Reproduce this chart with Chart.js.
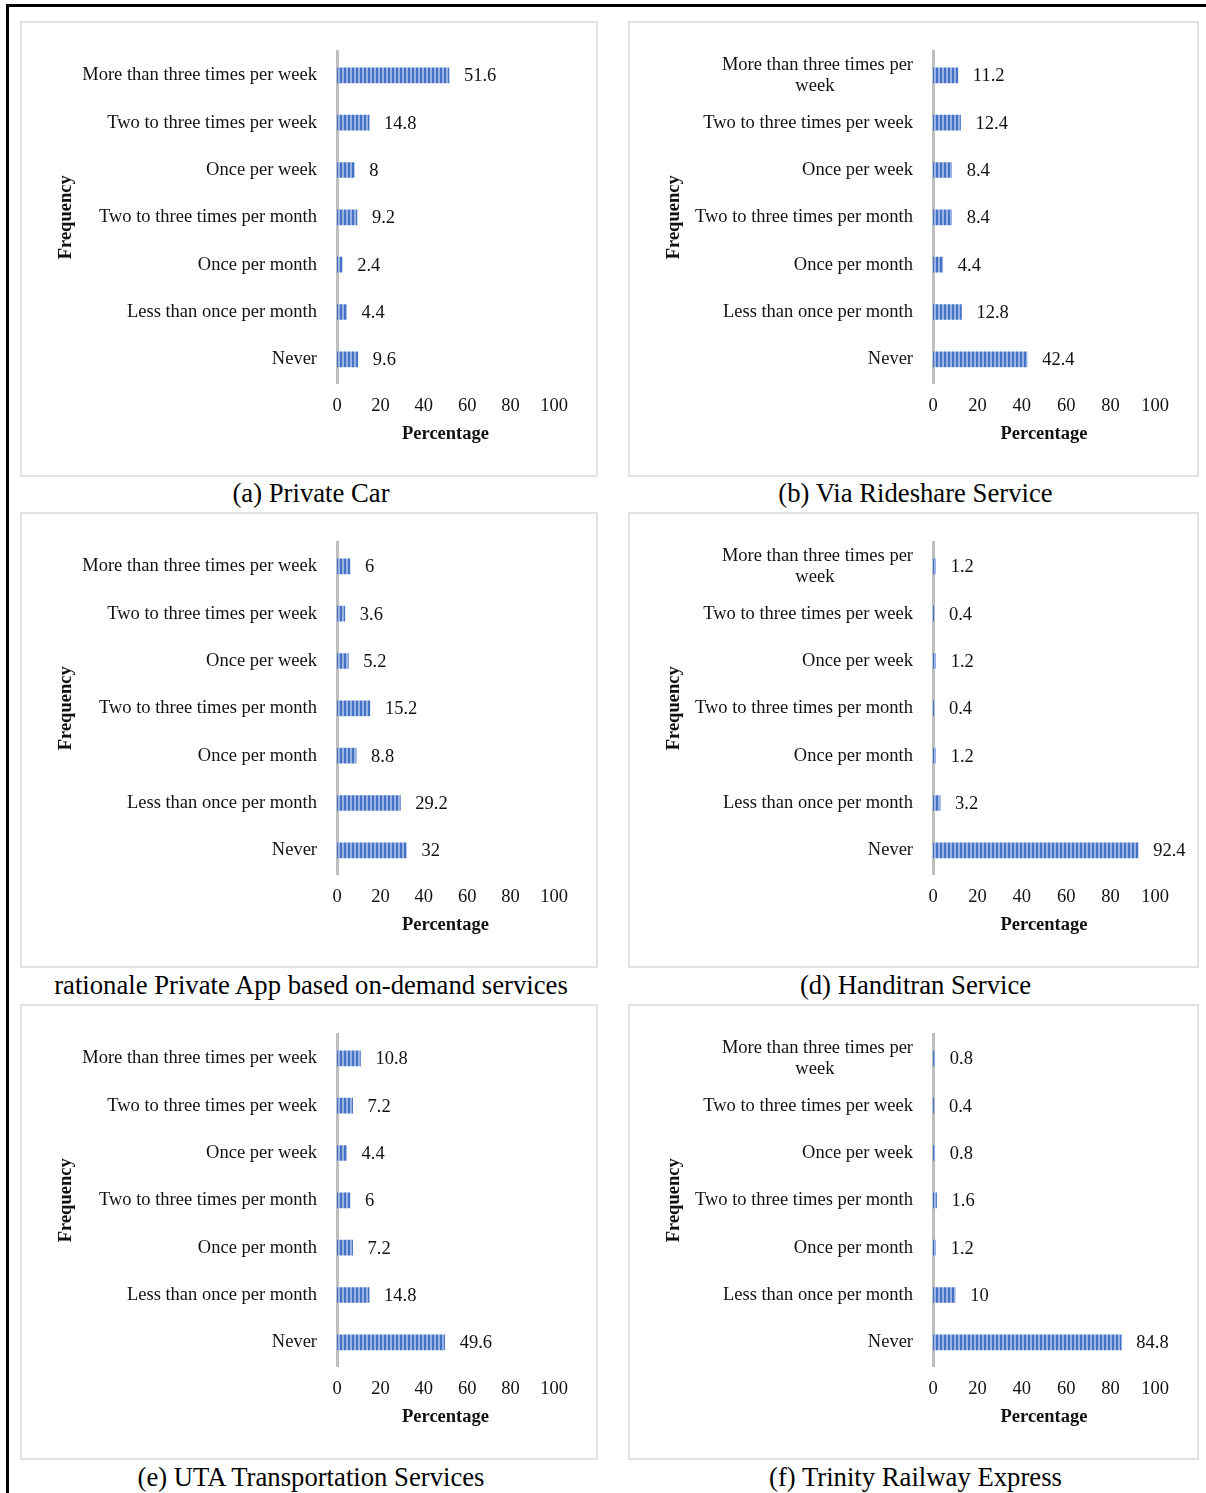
<!DOCTYPE html>
<html>
<head>
<meta charset="utf-8">
<script src="https://cdn.jsdelivr.net/npm/chart.js@4.4.1/dist/chart.umd.min.js"></script>
<style>
  html, body { margin: 0; padding: 0; background: #fff; }
  body { width: 1206px; height: 1493px; position: relative; overflow: hidden; }
  .frame-top { position: absolute; left: 6px; top: 4px; width: 1200px; height: 3px; background: #000; }
  .frame-left { position: absolute; left: 6px; top: 4px; width: 3px; height: 1489px; background: #000; }
  .panel { position: absolute; box-sizing: border-box; border: 2px solid #e2e2e2; background: #fff; }
  .panel canvas { position: absolute; left: -2px; top: -2px; }
  .caption { position: absolute; text-align: center; font-family: "Liberation Serif", "Times New Roman", serif;
             font-size: 26.7px; color: #000; white-space: nowrap; line-height: 30px; }
</style>
</head>
<body>
<div class="frame-top"></div>
<div class="frame-left"></div>
<div id="root"></div>
<script>
// Survey categories (top to bottom)
const frequencyLabels = [
  "More than three times per week",
  "Two to three times per week",
  "Once per week",
  "Two to three times per month",
  "Once per month",
  "Less than once per month",
  "Never"
];
// Same categories, with the long first label wrapped for the narrower panels
const frequencyLabelsWrapped = [
  ["More than three times per", "week" + " ".repeat(17)],
  "Two to three times per week",
  "Once per week",
  "Two to three times per month",
  "Once per month",
  "Less than once per month",
  "Never"
];

// Percentage of respondents per frequency, one array per mode
const privateCar      = [51.6, 14.8, 8, 9.2, 2.4, 4.4, 9.6];
const viaRideshare    = [11.2, 12.4, 8.4, 8.4, 4.4, 12.8, 42.4];
const privateApp      = [6, 3.6, 5.2, 15.2, 8.8, 29.2, 32];
const handitran       = [1.2, 0.4, 1.2, 0.4, 1.2, 3.2, 92.4];
const utaServices     = [10.8, 7.2, 4.4, 6, 7.2, 14.8, 49.6];
const trinityRailway  = [0.8, 0.4, 0.8, 1.6, 1.2, 10, 84.8];

const percentTicks = [0, 20, 40, 60, 80, 100];

const captions = [
  "(a) Private Car",
  "(b) Via Rideshare Service",
  "rationale Private App based on-demand services",
  "(d) Handitran Service",
  "(e) UTA Transportation Services",
  "(f) Trinity Railway Express"
];

const serif = '"Liberation Serif", "Times New Roman", serif';
Chart.defaults.font.family = serif;
Chart.defaults.font.size = 18.5;
Chart.defaults.color = '#111';

// Striped blue fill used for the bars
function stripePattern() {
  const c = document.createElement('canvas');
  c.width = 4; c.height = 4;
  const g = c.getContext('2d');
  g.fillStyle = '#4472c4';
  g.fillRect(0, 0, 4, 4);
  g.fillStyle = '#9ab3e3';
  g.fillRect(2, 0, 2, 4);
  return g.createPattern(c, 'repeat');
}

// Writes each bar's value just past its end
const valueLabels = {
  id: 'valueLabels',
  afterDatasetsDraw(chart) {
    const ctx = chart.ctx;
    const ds = chart.data.datasets[0];
    const meta = chart.getDatasetMeta(0);
    ctx.save();
    ctx.font = '18.5px ' + serif;
    ctx.fillStyle = '#111';
    ctx.textAlign = 'left';
    ctx.textBaseline = 'middle';
    meta.data.forEach((bar, i) => {
      ctx.fillText(String(ds.data[i]), bar.x + 15, bar.y + 1);
    });
    ctx.restore();
  }
};

const panels = [
  { data: privateCar,     col: 0, row: 0 },
  { data: viaRideshare,   col: 1, row: 0 },
  { data: privateApp,     col: 0, row: 1 },
  { data: handitran,      col: 1, row: 1 },
  { data: utaServices,    col: 0, row: 2 },
  { data: trinityRailway, col: 1, row: 2 }
];

const cols = [
  { left: 20,  width: 578, yWidth: 282, capShift: 2 },
  { left: 628, width: 571, yWidth: 270, capShift: 2 }
];
const rowTops = [21, 512, 1004];
const panelHeight = 456;
const captionCenters = [493, 985, 1477];

const root = document.getElementById('root');

panels.forEach((p, idx) => {
  const col = cols[p.col];
  const top = rowTops[p.row];

  const box = document.createElement('div');
  box.className = 'panel';
  box.style.left = col.left + 'px';
  box.style.top = top + 'px';
  box.style.width = col.width + 'px';
  box.style.height = panelHeight + 'px';
  root.appendChild(box);

  const canvas = document.createElement('canvas');
  canvas.width = col.width;
  canvas.height = panelHeight;
  canvas.style.width = col.width + 'px';
  canvas.style.height = panelHeight + 'px';
  box.appendChild(canvas);

  const cap = document.createElement('div');
  cap.className = 'caption';
  cap.textContent = captions[idx];
  cap.style.left = (col.left + col.capShift) + 'px';
  cap.style.width = col.width + 'px';
  cap.style.top = (captionCenters[p.row] - 15) + 'px';
  root.appendChild(cap);

  new Chart(canvas, {
    type: 'bar',
    data: {
      labels: p.col === 0 ? frequencyLabels : frequencyLabelsWrapped,
      datasets: [{
        data: p.data,
        backgroundColor: stripePattern(),
        borderWidth: 0,
        barThickness: 15
      }]
    },
    options: {
      indexAxis: 'y',
      responsive: false,
      animation: false,
      devicePixelRatio: 1,
      layout: { padding: { left: 35, right: 44, top: 29, bottom: 32 } },
      plugins: { legend: { display: false }, tooltip: { enabled: false } },
      scales: {
        x: {
          min: 0, max: 100,
          afterBuildTicks(scale) { scale.ticks = percentTicks.map(v => ({ value: v })); },
          afterFit(scale) { scale.height = 62; },
          grid: { display: false, drawTicks: false },
          border: { display: false },
          ticks: { padding: 12, color: '#111', font: { size: 18.5 } },
          title: { display: true, text: 'Percentage', color: '#111', padding: 0,
                   font: { size: 18.5, weight: 'bold' } }
        },
        y: {
          afterFit(scale) { scale.width = col.yWidth; },
          grid: { display: false, drawTicks: false },
          border: { display: true, color: '#bfbfbf', width: 3 },
          ticks: { padding: 20, color: '#111', font: { size: 18.5, lineHeight: 1.15 } },
          title: { display: true, text: 'Frequency', color: '#111', padding: 0,
                   font: { size: 18.5, weight: 'bold' } }
        }
      }
    },
    plugins: [valueLabels]
  });
});
</script>
</body>
</html>
